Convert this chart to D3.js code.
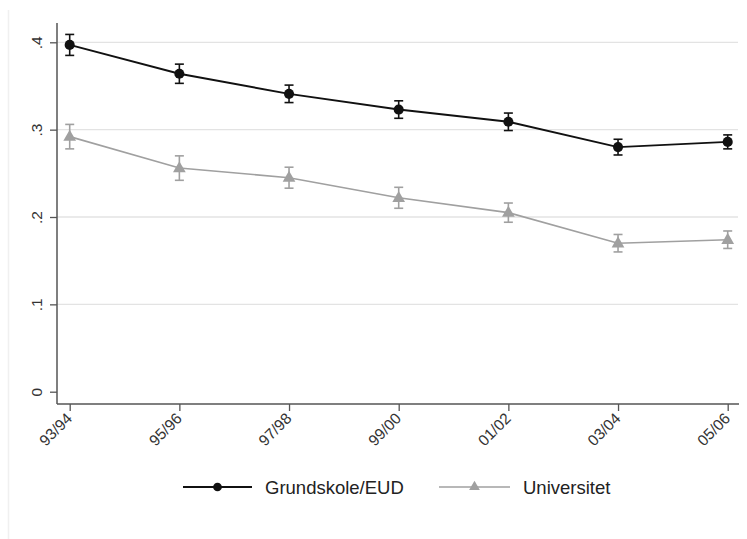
<!DOCTYPE html>
<html><head><meta charset="utf-8">
<script src="https://cdn.jsdelivr.net/npm/d3@7/dist/d3.min.js"></script>
<style>body{margin:0;background:#fff}svg{display:block;font-family:"Liberation Sans",Arial,sans-serif}</style>
</head><body><svg id="c" width="747" height="539"></svg>
<script>
const categories = ["93/94","95/96","97/98","99/00","01/02","03/04","05/06"];
const grundValues = [0.397, 0.364, 0.341, 0.323, 0.309, 0.280, 0.286];
const grundLower  = [0.385, 0.353, 0.331, 0.313, 0.299, 0.271, 0.278];
const grundUpper  = [0.409, 0.375, 0.351, 0.333, 0.319, 0.289, 0.294];
const uniValues   = [0.292, 0.256, 0.245, 0.222, 0.205, 0.170, 0.174];
const uniLower    = [0.278, 0.242, 0.233, 0.210, 0.194, 0.160, 0.164];
const uniUpper    = [0.306, 0.270, 0.257, 0.234, 0.216, 0.180, 0.184];
const yTicks = [0, 0.1, 0.2, 0.3, 0.4];
const yTickLabels = ["0", ".1", ".2", ".3", ".4"];
const seriesNames = ["Grundskole/EUD", "Universitet"];

const svg = d3.select("#c");
const mLeft = 57, mRight = 739, mTop = 23, mBottom = 404;
const x = d3.scalePoint().domain(categories).range([69.7, 727.7]);
const y = d3.scaleLinear().domain([0, 0.4]).range([391.7, 42.3]);

// faint outer frame edge
svg.append("line").attr("x1",8.5).attr("x2",8.5).attr("y1",10).attr("y2",539).attr("stroke","#f0f0f0").attr("stroke-width",1.5);

// gridlines
svg.append("g").selectAll("line").data(yTicks.filter(d=>d>0)).join("line")
  .attr("x1", mLeft).attr("x2", mRight-1)
  .attr("y1", d=>y(d)).attr("y2", d=>y(d))
  .attr("stroke", "#e3e3e3").attr("stroke-width", 1.3);

// y axis
const yAxis = d3.axisLeft(y).tickValues(yTicks).tickFormat((d,i)=>yTickLabels[i]).tickSize(7).tickSizeOuter(0);
const gy = svg.append("g").attr("transform", `translate(${mLeft},0)`).call(yAxis);
gy.select(".domain").remove();
gy.selectAll(".tick line").attr("stroke","#555").attr("stroke-width",1.3);
gy.selectAll(".tick text").attr("fill","#333").style("font-size","15.5px")
  .attr("x", null).attr("dy", null).attr("text-anchor","middle")
  .attr("transform","translate(-15,0) rotate(-90)");
svg.append("line").attr("x1",mLeft).attr("x2",mLeft).attr("y1",mTop).attr("y2",mBottom).attr("stroke","#555").attr("stroke-width",1.5);

// x axis
const xAxis = d3.axisBottom(x).tickSize(7).tickSizeOuter(0);
const gx = svg.append("g").attr("transform", `translate(0,${mBottom})`).call(xAxis);
gx.select(".domain").remove();
gx.selectAll(".tick line").attr("stroke","#555").attr("stroke-width",1.3);
gx.selectAll(".tick text").attr("fill","#333").style("font-size","15.5px")
  .attr("y", null).attr("dy", null).attr("text-anchor","end")
  .attr("transform","translate(3,15.5) rotate(-45)");
svg.append("line").attr("x1",mLeft).attr("x2",mRight).attr("y1",mBottom).attr("y2",mBottom).attr("stroke","#555").attr("stroke-width",1.5);

function drawSeries(vals, lo, hi, color, lw, marker) {
  const g = svg.append("g");
  g.append("path").datum(vals)
    .attr("d", d3.line().x((d,i)=>x(categories[i])).y(d=>y(d)))
    .attr("fill","none").attr("stroke",color).attr("stroke-width",lw);
  const eb = g.append("g").attr("stroke",color).attr("stroke-width",1.6);
  categories.forEach((c,i)=>{
    const cx = x(c);
    eb.append("line").attr("x1",cx).attr("x2",cx).attr("y1",y(lo[i])).attr("y2",y(hi[i]));
    eb.append("line").attr("x1",cx-4.5).attr("x2",cx+4.5).attr("y1",y(lo[i])).attr("y2",y(lo[i]));
    eb.append("line").attr("x1",cx-4.5).attr("x2",cx+4.5).attr("y1",y(hi[i])).attr("y2",y(hi[i]));
  });
  const sym = marker === "circle" ? d3.symbol(d3.symbolCircle, 80) : d3.symbol(d3.symbolTriangle, 70);
  g.selectAll("path.m").data(vals).join("path").attr("class","m")
    .attr("d", sym).attr("fill", color)
    .attr("transform",(d,i)=>`translate(${x(categories[i])},${y(d)+(marker==="circle"?0:0.5)})`);
}
drawSeries(uniValues, uniLower, uniUpper, "#a0a0a0", 1.6, "triangle");
drawSeries(grundValues, grundLower, grundUpper, "#111", 1.9, "circle");

// legend
const leg = svg.append("g");
const legItems = [
  {name: seriesNames[0], x0:183, x1:252, color:"#111", lw:1.9, sym:d3.symbol(d3.symbolCircle, 60)},
  {name: seriesNames[1], x0:439, x1:510, color:"#a0a0a0", lw:1.6, sym:d3.symbol(d3.symbolTriangle, 50)}
];
legItems.forEach(it=>{
  const ly = 487;
  leg.append("line").attr("x1",it.x0).attr("x2",it.x1).attr("y1",ly).attr("y2",ly).attr("stroke",it.color).attr("stroke-width",it.lw);
  leg.append("path").attr("d",it.sym).attr("fill",it.color).attr("transform",`translate(${(it.x0+it.x1)/2},${ly})`);
  leg.append("text").attr("x",it.x1+13).attr("y",ly+6.5).attr("fill","#222").style("font-size","18.5px").text(it.name);
});
</script></body></html>
